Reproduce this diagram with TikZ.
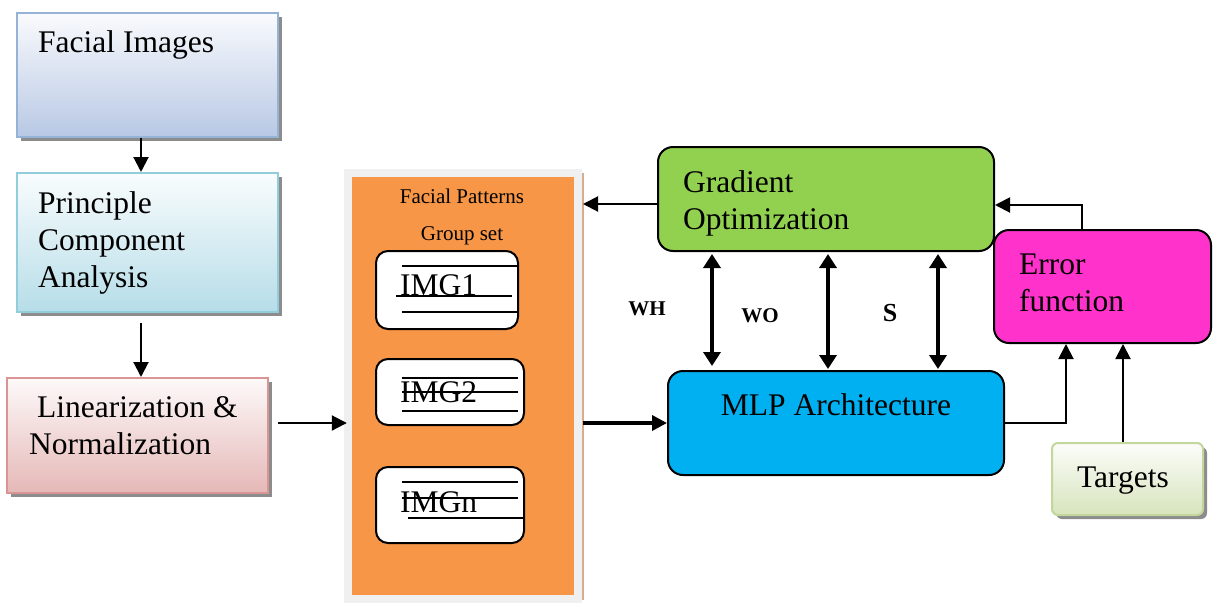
\documentclass[tikz,border=0pt]{standalone}
\usepackage{fontspec}
\setmainfont{Liberation Serif}
\usetikzlibrary{arrows.meta,shadows,calc}
\definecolor{fiB}{HTML}{95B3D7}\definecolor{fiF}{HTML}{B8C8E4}
\definecolor{pcB}{HTML}{92CDDC}\definecolor{pcF}{HTML}{B6DDE8}
\definecolor{lnB}{HTML}{D99594}\definecolor{lnF}{HTML}{E5B8B7}
\definecolor{tgB}{HTML}{C3D69B}\definecolor{tgF}{HTML}{D7E4BD}
\definecolor{orng}{HTML}{F79646}
\definecolor{frm}{HTML}{F0F0F0}
\definecolor{tan}{HTML}{D6AE8E}
\definecolor{grn}{HTML}{92D050}
\definecolor{blu}{HTML}{00B0F0}
\definecolor{mag}{HTML}{FF33CC}
\begin{document}
\begin{tikzpicture}[x=1pt,y=-1pt,
  big/.style={font=\fontsize{31.5}{37}\selectfont},
  small/.style={font=\fontsize{21}{25}\selectfont},
  lbl/.style={font=\fontsize{21}{25}\selectfont\bfseries},
  gbox/.style 2 args={rectangle,draw=#1,line width=2pt,top color=#2!8,bottom color=#2,
    drop shadow={shadow xshift=4pt,shadow yshift=-4pt,fill=black!45,opacity=1}},
  rbox/.style={rectangle,rounded corners=#1,draw=black,line width=2pt},
  txt/.style={inner sep=0pt,align=left},
  arr/.style={line width=2pt,-{Triangle[width=15pt,length=15pt]}},
  tarr/.style={line width=3.5pt,-{Triangle[width=15pt,length=15pt]}},
  dbl/.style={line width=4.5pt,{Triangle[width=17pt,length=14pt]}-{Triangle[width=17pt,length=14pt]}},
  imgline/.style={line width=2pt}
]
\useasboundingbox (0,0) rectangle (1213,603);

% left column
\node[gbox={fiB}{fiF},minimum width=261pt,minimum height=124pt] (fi) at (147.5,75) {};
\node[txt,big,anchor=base west] (fiT) at (38,52) {Facial Images};
\node[gbox={pcB}{pcF},minimum width=261pt,minimum height=139pt] (pca) at (147.5,242.5) {};
\node[txt,big,anchor=north west] (pcaT) at (38,191.5) {Principle\\Component\\Analysis};
\node[gbox={lnB}{lnF},minimum width=261pt,minimum height=115pt] (ln) at (137.5,435.5) {};
\node[txt,big,anchor=north west] (lnT) at (29,396.7) {\hspace*{8pt}Linearization \&\\Normalization};

\draw[arr] ([xshift=-6.5pt]fi.south) -- ([xshift=3.5pt]ln.north |- pca.north);
\draw[arr] ([shift={(-6.5,10)}]pca.south) -- ([xshift=3.5pt]ln.north);

% group set panel
\node[rectangle,fill=frm,minimum width=238pt,minimum height=434pt] (frame) at (463,386) {};
\node[rectangle,fill=orng,minimum width=222pt,minimum height=418pt] (orange) at (463,386) {};
\coordinate (tanT) at (583,173);
\coordinate (tanB) at (583,600);
\draw[tan,line width=2pt] (tanT) -- (tanB);
\node[small,inner sep=0pt,anchor=base] (fpT) at (462,203) {Facial Patterns};
\node[small,inner sep=0pt,anchor=base] (gsT) at (462,240) {Group set};

\node[rbox=12pt,fill=white,minimum width=142pt,minimum height=78pt] (img1) at (447,290) {};
\node[txt,big,anchor=base west] (img1T) at (400,295) {IMG1};
\draw[imgline] (402,266) -- (517,266);
\draw[imgline] (396,296) -- (512,296);
\draw[imgline] (402,312) -- (517,312);

\node[rbox=12pt,fill=white,minimum width=148pt,minimum height=66pt] (img2) at (450,392) {};
\node[txt,big,anchor=base west] (img2T) at (400,402) {IMG2};
\draw[imgline] (402,378) -- (518,378);
\draw[imgline] (402,392) -- (518,392);
\draw[imgline] (402,411) -- (518,411);

\node[rbox=12pt,fill=white,minimum width=148pt,minimum height=76pt] (imgn) at (450,505) {};
\node[txt,big,anchor=base west] (imgnT) at (400,512) {IMGn};
\draw[imgline] (402,482) -- (518,482);
\draw[imgline] (402,498) -- (518,498);
\draw[imgline] (408,518) -- (523,518);

\draw[arr] ([shift={(9,-12.5)}]ln.east) -- ([shift={(3,-12.5)}]ln.east -| frame.west);

% right part
\node[rbox=15pt,fill=grn,minimum width=336pt,minimum height=104pt] (grad) at (826,199) {};
\node[txt,big,anchor=north west] (gradT) at (683,170.5) {Gradient\\Optimization};
\node[rbox=15pt,fill=blu,minimum width=336pt,minimum height=104pt] (mlp) at (836,423) {};
\node[big,inner sep=0pt,anchor=base] (mlpT) at (836,415) {MLP Architecture};
\node[rbox=15pt,fill=mag,minimum width=217pt,minimum height=113pt] (err) at (1102.5,286.5) {};
\node[txt,big,anchor=north west] (errT) at (1019,254) {Error\\function};
\node[gbox={tgB}{tgF},rounded corners=6pt,minimum width=151pt,minimum height=72pt] (tgt) at (1127.5,479) {};
\node[big,inner sep=0pt,anchor=base] (tgtT) at (1123,487) {Targets};

\draw[arr] ([yshift=-5pt]grad.west) -- ([yshift=-5pt]grad.west -| tanT);
\draw[tarr] (mlp.west -| tanT) -- (mlp.west);

\coordinate (c1) at (712,0);
\coordinate (c2) at (828,0);
\coordinate (c3) at (938,0);
\draw[dbl] ([yshift=-2pt]grad.south -| c1) -- ([yshift=4pt]mlp.north -| c1);
\draw[dbl] ([yshift=-2pt]grad.south -| c2) -- ([yshift=1pt]mlp.north -| c2);
\draw[dbl] ([yshift=-2pt]grad.south -| c3) -- ([yshift=1pt]mlp.north -| c3);
\node[lbl,inner sep=0pt,anchor=base] (wh) at (647,315) {WH};
\node[lbl,inner sep=0pt,anchor=base] (wo) at (760,322) {WO};
\node[inner sep=0pt,anchor=base,font=\fontsize{26}{30}\selectfont\bfseries] (s) at (890,321) {S};

\draw[arr] ([xshift=-20.5pt]err.north) |- ([yshift=-6pt]grad.east);
\draw[arr] (mlp.east) -| ([xshift=-36.5pt]err.south);
\draw[arr] ([xshift=-4.5pt]tgt.north) -- ([xshift=-4.5pt]tgt.north |- err.south);
\end{tikzpicture}
\end{document}
